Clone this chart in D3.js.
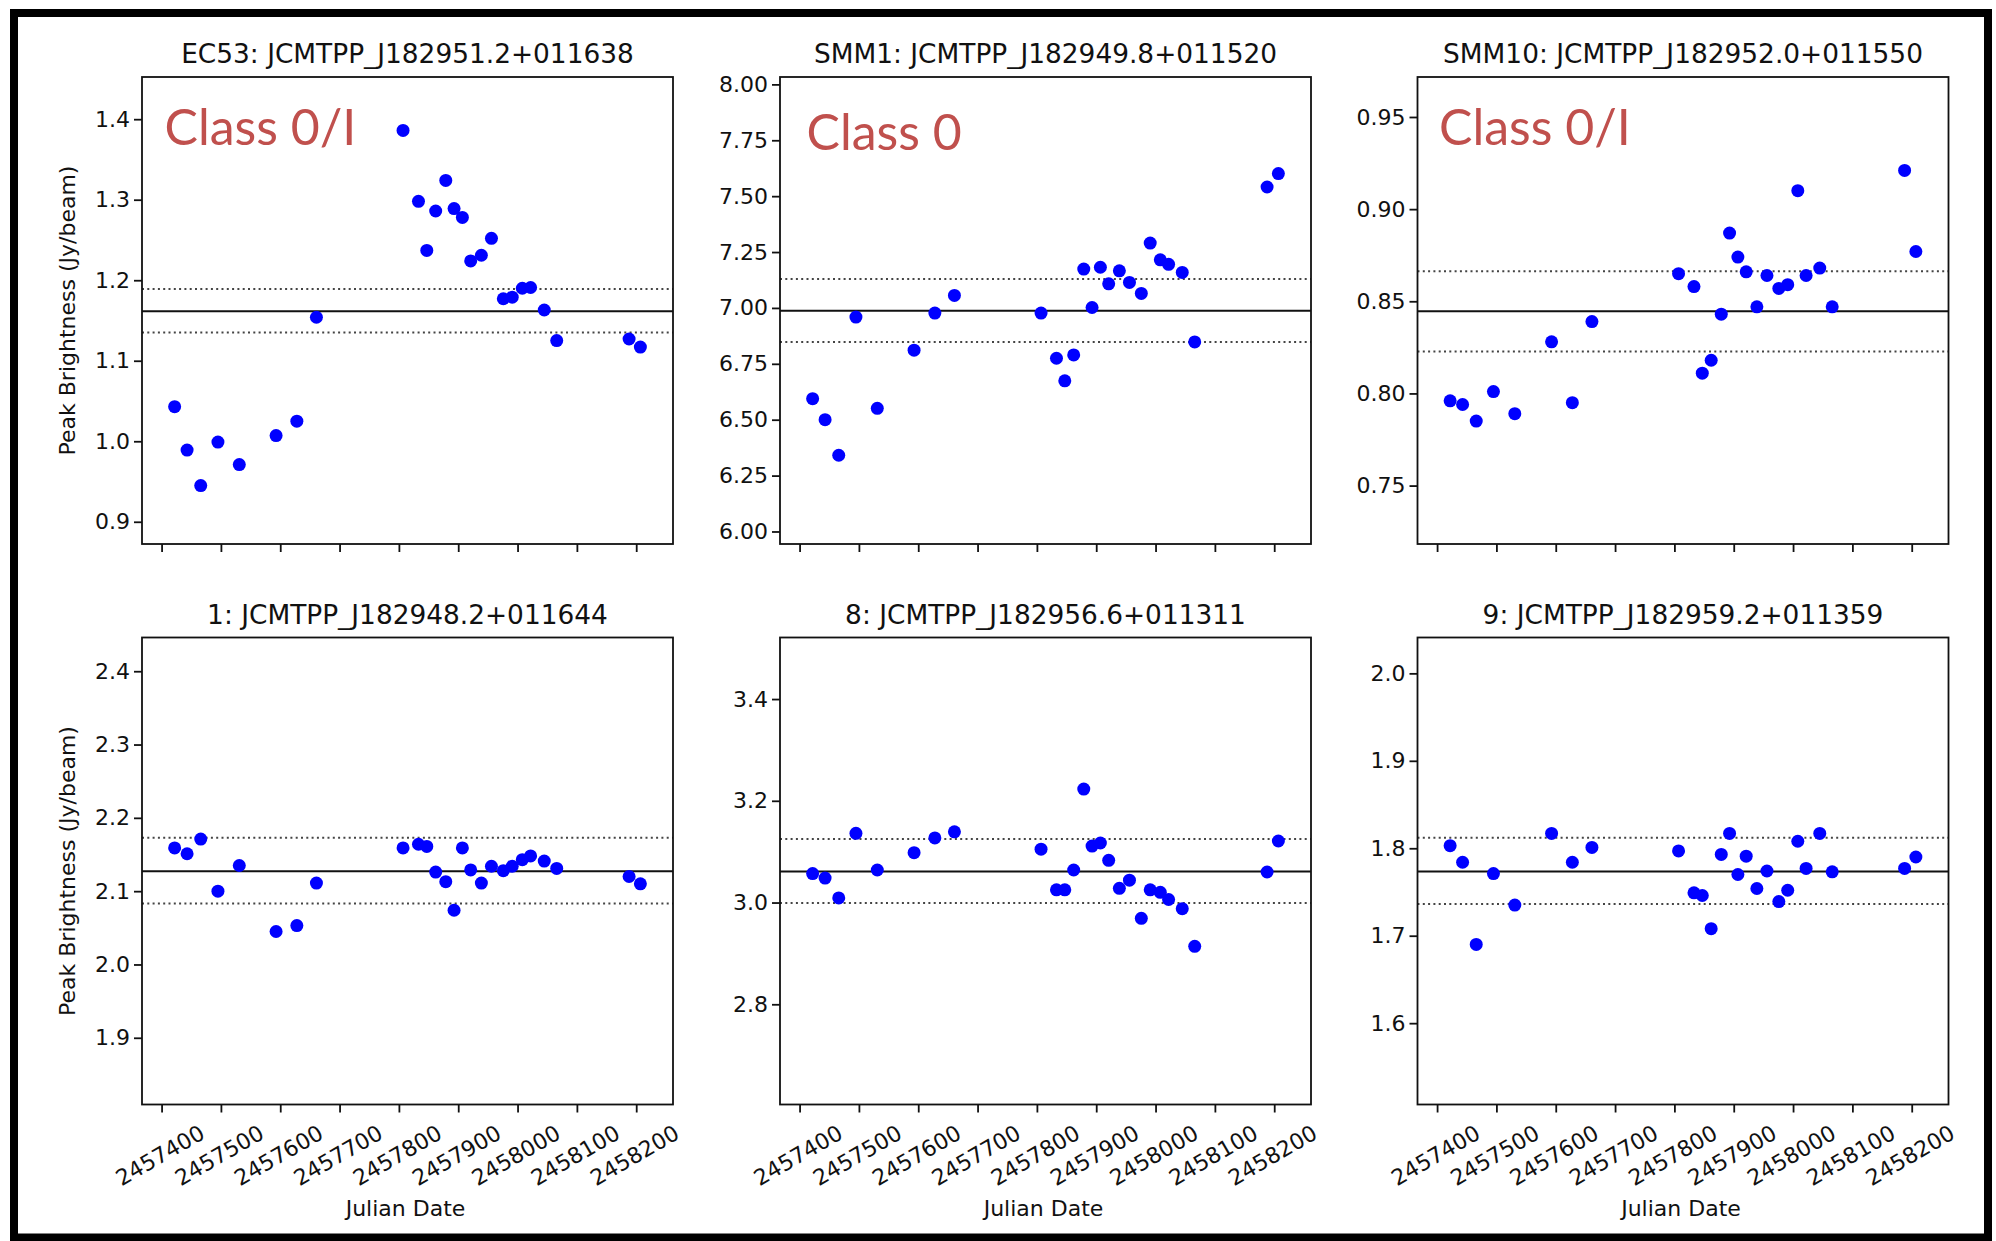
<!DOCTYPE html>
<html>
<head>
<meta charset="utf-8">
<script src="https://cdn.jsdelivr.net/npm/d3@7"></script>
<style>
    body { margin: 0; background: #fff; }
    text { font-family: "DejaVu Sans", sans-serif; fill: #111; }
    .class-label { font-family: Lato, "Open Sans", sans-serif; fill: #c0504d; }
</style>
</head>
<body>
<div id="chart"></div>
<script>
(function() {
    // Données
    const julianDates = [2457422, 2457443, 2457466, 2457495, 2457531, 2457593, 2457628, 2457661,
        2457807, 2457833, 2457847, 2457862, 2457879, 2457893, 2457907, 2457921, 2457939, 2457956,
        2457976, 2457991, 2458008, 2458022, 2458045, 2458066, 2458188, 2458207];

    const ec53Flux = [1.043, 0.989, 0.945, 0.999, 0.971, 1.007, 1.025, 1.154, 1.386, 1.298, 1.237, 1.286, 1.324,
        1.289, 1.278, 1.224, 1.231, 1.252, 1.177, 1.179, 1.190, 1.191, 1.163, 1.125, 1.127, 1.117];
    const smm1Flux = [6.594, 6.500, 6.341, 6.959, 6.551, 6.811, 6.977, 7.056, 6.977, 6.775, 6.674, 6.790, 7.174,
        7.002, 7.182, 7.108, 7.166, 7.114, 7.065, 7.290, 7.215, 7.195, 7.159, 6.848, 7.541, 7.601];
    const smm10Flux = [0.796, 0.794, 0.785, 0.801, 0.789, 0.828, 0.795, 0.839, 0.865, 0.858, 0.811, 0.818, 0.843,
        0.887, 0.874, 0.866, 0.847, 0.864, 0.857, 0.859, 0.910, 0.864, 0.868, 0.847, 0.921, 0.877];
    const src1Flux = [2.159, 2.151, 2.171, 2.100, 2.135, 2.045, 2.053, 2.111, 2.159, 2.164, 2.161, 2.126, 2.113,
        2.074, 2.159, 2.129, 2.111, 2.134, 2.128, 2.134, 2.143, 2.148, 2.141, 2.131, 2.120, 2.110];
    const src8Flux = [3.057, 3.048, 3.009, 3.136, 3.064, 3.098, 3.127, 3.139, 3.105, 3.025, 3.025, 3.064, 3.223,
        3.111, 3.117, 3.083, 3.028, 3.044, 2.969, 3.025, 3.020, 3.006, 2.988, 2.914, 3.060, 3.121];
    const src9Flux = [1.803, 1.784, 1.690, 1.771, 1.735, 1.817, 1.784, 1.801, 1.797, 1.749, 1.746, 1.708, 1.793,
        1.817, 1.770, 1.791, 1.754, 1.774, 1.739, 1.752, 1.808, 1.777, 1.817, 1.773, 1.777, 1.790];

    const panelTitles = ["EC53: JCMTPP_J182951.2+011638", "SMM1: JCMTPP_J182949.8+011520",
        "SMM10: JCMTPP_J182952.0+011550", "1: JCMTPP_J182948.2+011644",
        "8: JCMTPP_J182956.6+011311", "9: JCMTPP_J182959.2+011359"];
    const classLabels = ["Class 0/I", "Class 0", "Class 0/I", null, null, null];

    // Moyenne et bornes (lignes horizontales)
    const meanFlux = [1.1615, 6.987, 0.8446, 2.127, 3.061, 1.7735];
    const lowerFlux = [1.135, 6.848, 0.8227, 2.083, 2.999, 1.7364];
    const upperFlux = [1.189, 7.129, 0.8663, 2.173, 3.125, 1.812];

    const xDomain = [2457367, 2458262];
    const xTickValues = [2457400, 2457500, 2457600, 2457700, 2457800, 2457900, 2458000, 2458100, 2458200];
    const yDomains = [[0.8724, 1.4524], [5.944, 8.033], [0.7183, 0.9717],
        [1.809, 2.446], [2.603, 3.521], [1.507, 2.041]];
    const yTickValues = [
        [0.9, 1.0, 1.1, 1.2, 1.3, 1.4],
        [6.00, 6.25, 6.50, 6.75, 7.00, 7.25, 7.50, 7.75, 8.00],
        [0.75, 0.80, 0.85, 0.90, 0.95],
        [1.9, 2.0, 2.1, 2.2, 2.3, 2.4],
        [2.8, 3.0, 3.2, 3.4],
        [1.6, 1.7, 1.8, 1.9, 2.0]
    ];
    const yTickFormats = [".1f", ".2f", ".2f", ".1f", ".1f", ".1f"];
    const fluxSeries = [ec53Flux, smm1Flux, smm10Flux, src1Flux, src8Flux, src9Flux];

    // Mise en page
    const W = 1996, H = 1241;
    const colLeft = [142, 780, 1417.5];
    const rowTop = [77, 637.5];
    const boxW = 531, boxH = 467;
    const classPos = [{ x: 22.5, y: 68 }, { x: 26.5, y: 73 }, { x: 21.5, y: 68 }];

    const svg = d3.select("#chart").append("svg")
        .attr("width", W)
        .attr("height", H);

    svg.append("rect").attr("width", W).attr("height", H).attr("fill", "#fff");

    const x = d3.scaleLinear().domain(xDomain).range([0, boxW]);

    fluxSeries.forEach((flux, i) => {
        const col = i % 3, row = Math.floor(i / 3);
        const g = svg.append("g")
            .attr("transform", `translate(${colLeft[col]},${rowTop[row]})`);

        const y = d3.scaleLinear().domain(yDomains[i]).range([boxH, 0]);

        // Axes
        const yAxis = g.append("g")
            .call(d3.axisLeft(y)
                .tickValues(yTickValues[i])
                .tickFormat(d3.format(yTickFormats[i]))
                .tickSize(8)
                .tickPadding(4));

        const xAxis = g.append("g")
            .attr("transform", `translate(0,${boxH})`)
            .call(d3.axisBottom(x)
                .tickValues(xTickValues)
                .tickFormat(row === 1 ? d3.format("d") : () => "")
                .tickSize(8));

        [yAxis, xAxis].forEach(a => {
            a.select(".domain").remove();
            a.selectAll(".tick line").attr("stroke", "#111").attr("stroke-width", 1.8);
            a.selectAll(".tick text")
                .attr("fill", "#111")
                .style("font-family", "DejaVu Sans")
                .style("font-size", "22px");
        });

        // Étiquettes de l'axe x tournées de 30°
        xAxis.selectAll(".tick text")
            .attr("y", null)
            .attr("dy", null)
            .attr("text-anchor", "middle")
            .attr("dominant-baseline", "central")
            .attr("transform", "translate(-2,51) rotate(-30)");

        // Lignes horizontales
        [lowerFlux[i], upperFlux[i]].forEach(v => {
            g.append("line")
                .attr("x1", 0).attr("x2", boxW)
                .attr("y1", y(v)).attr("y2", y(v))
                .attr("stroke", "#444")
                .attr("stroke-width", 2)
                .attr("stroke-dasharray", "2,3.3");
        });
        g.append("line")
            .attr("x1", 0).attr("x2", boxW)
            .attr("y1", y(meanFlux[i])).attr("y2", y(meanFlux[i]))
            .attr("stroke", "#111")
            .attr("stroke-width", 2);

        // Points
        g.selectAll(".dot")
            .data(flux)
            .enter().append("circle")
            .attr("class", "dot")
            .attr("cx", (d, j) => x(julianDates[j]))
            .attr("cy", d => y(d))
            .attr("r", 6.5)
            .attr("fill", "#0000ff");

        // Cadre du graphique
        g.append("rect")
            .attr("width", boxW)
            .attr("height", boxH)
            .attr("fill", "none")
            .attr("stroke", "#111")
            .attr("stroke-width", 1.8);

        // Titre
        g.append("text")
            .attr("x", boxW / 2)
            .attr("y", -14)
            .attr("text-anchor", "middle")
            .style("font-size", "26.4px")
            .text(panelTitles[i]);

        if (col === 0) {
            g.append("text")
                .attr("transform", `translate(${75 - colLeft[0]},${boxH / 2}) rotate(-90)`)
                .attr("text-anchor", "middle")
                .style("font-size", "22px")
                .text("Peak Brightness (Jy/beam)");
        }
        if (row === 1) {
            g.append("text")
                .attr("x", boxW / 2 - 2)
                .attr("y", boxH + 111)
                .attr("text-anchor", "middle")
                .style("font-size", "22px")
                .text("Julian Date");
        }

        if (classLabels[i]) {
            g.append("text")
                .attr("class", "class-label")
                .attr("x", classPos[col].x)
                .attr("y", classPos[col].y)
                .style("font-size", "50px")
                .text(classLabels[i]);
        }
    });

    // Bordure noire autour de la figure
    svg.append("rect")
        .attr("x", 14).attr("y", 13)
        .attr("width", 1974).attr("height", 1224.5)
        .attr("fill", "none")
        .attr("stroke", "#000")
        .attr("stroke-width", 8);
})();
</script>
</body>
</html>
